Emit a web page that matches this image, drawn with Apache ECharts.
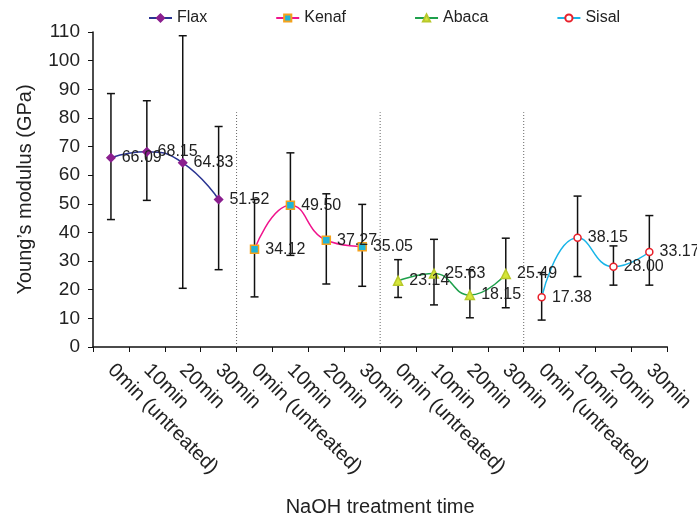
<!DOCTYPE html>
<html>
<head>
<meta charset="utf-8">
<script src="https://cdn.jsdelivr.net/npm/echarts@6/dist/echarts.min.js"></script>
<style>
  html, body { margin: 0; padding: 0; background: #fff; }
  #chart { width: 697px; height: 522px; }
</style>
</head>
<body>
<div id="chart"></div>
<script>
  var categories = [
    "0min (untreated)", "10min", "20min", "30min",
    "0min (untreated)", "10min", "20min", "30min",
    "0min (untreated)", "10min", "20min", "30min",
    "0min (untreated)", "10min", "20min", "30min"
  ];

  var flax = [66.09, 68.15, 64.33, 51.52];
  var flaxLow = [44.5, 51.2, 20.5, 27.0];
  var flaxHigh = [88.5, 86.0, 108.7, 77.0];

  var kenaf = [34.12, 49.50, 37.27, 35.05];
  var kenafLow = [17.5, 32.0, 22.0, 21.2];
  var kenafHigh = [51.5, 67.8, 53.5, 49.8];

  var abaca = [23.14, 25.63, 18.15, 25.49];
  var abacaLow = [17.3, 14.7, 10.2, 13.7];
  var abacaHigh = [30.5, 37.6, 27.0, 38.0];

  var sisal = [17.38, 38.15, 28.00, 33.17];
  var sisalLow = [9.4, 24.6, 21.6, 21.6];
  var sisalHigh = [26.0, 52.7, 35.3, 45.9];

  var groupSize = 4;

  function placed(values, group) {
    var out = [];
    for (var i = 0; i < categories.length; i++) out.push("-");
    for (var j = 0; j < values.length; j++) out[group * groupSize + j] = values[j];
    return out;
  }

  var errorData = [];
  [[flaxLow, flaxHigh], [kenafLow, kenafHigh], [abacaLow, abacaHigh], [sisalLow, sisalHigh]].forEach(function (pair, g) {
    for (var j = 0; j < pair[0].length; j++) {
      errorData.push([g * groupSize + j, pair[0][j], pair[1][j]]);
    }
  });

  // dotted dividers between fibre groups, up to ~82 GPa
  var separators = [];
  for (var s = 1; s < 4; s++) separators.push([s * groupSize, 82]);

  function errorBar(params, api) {
    var x = api.value(0);
    var lo = api.coord([x, api.value(1)]);
    var hi = api.coord([x, api.value(2)]);
    var w = 4;
    var st = { stroke: "#111", lineWidth: 1.5 };
    return {
      type: "group",
      children: [
        { type: "line", shape: { x1: hi[0], y1: hi[1], x2: lo[0], y2: lo[1] }, style: st },
        { type: "line", shape: { x1: hi[0] - w, y1: hi[1], x2: hi[0] + w, y2: hi[1] }, style: st },
        { type: "line", shape: { x1: lo[0] - w, y1: lo[1], x2: lo[0] + w, y2: lo[1] }, style: st }
      ]
    };
  }

  function separatorLine(params, api) {
    var idx = api.value(0);
    var band = api.size([1, 0])[0];
    var b = api.coord([idx, 0]);
    var t = api.coord([idx, api.value(1)]);
    var x = b[0] - band / 2;
    return {
      type: "line",
      shape: { x1: x, y1: b[1], x2: x, y2: t[1] },
      style: { stroke: "#666", lineWidth: 1, lineDash: [1, 2] }
    };
  }

  function lineSeries(name, values, group, lineColor, symbol, fill, border, size) {
    return {
      name: name,
      type: "line",
      data: placed(values, group),
      smooth: 0.5,
      connectNulls: false,
      symbol: symbol,
      symbolSize: size,
      lineStyle: { color: lineColor, width: 1.5 },
      itemStyle: { color: fill, borderColor: border, borderWidth: 1.5 },
      label: {
        show: true,
        position: "right",
        distance: 6,
        fontSize: 16,
        color: "#222",
        formatter: function (p) { return p.value.toFixed(2); }
      },
      z: 3
    };
  }

  var myChart = echarts.init(document.getElementById("chart"), null, { renderer: "canvas" });
  var option = {
    animation: false,
    textStyle: { fontFamily: "Liberation Sans" },
    legend: {
      top: 5,
      left: 143,
      itemGap: 68,
      itemWidth: 23,
      itemHeight: 9,
      textStyle: { fontSize: 16, color: "#222" },
      data: ["Flax", "Kenaf", "Abaca", "Sisal"]
    },
    grid: { left: 93, right: 28, top: 32, bottom: 175 },
    xAxis: {
      type: "category",
      data: categories,
      boundaryGap: true,
      name: "NaOH treatment time",
      nameLocation: "middle",
      nameGap: 150,
      nameTextStyle: { fontSize: 20, color: "#222" },
      axisLine: { lineStyle: { color: "#111", width: 1.5 } },
      axisTick: { show: true, length: 5, lineStyle: { color: "#111" } },
      axisLabel: { interval: 0, rotate: -45, fontSize: 20, color: "#222", margin: 20 }
    },
    yAxis: {
      type: "value",
      min: 0,
      max: 110,
      interval: 10,
      name: "Young’s modulus (GPa)",
      nameLocation: "middle",
      nameGap: 58,
      nameTextStyle: { fontSize: 20, color: "#222" },
      axisLine: { show: true, lineStyle: { color: "#111", width: 1.5 } },
      axisTick: { show: true, length: 5, lineStyle: { color: "#111" } },
      axisLabel: { fontSize: 19, color: "#222", margin: 13 },
      splitLine: { show: false }
    },
    series: [
      lineSeries("Flax", flax, 0, "#2b3592", "diamond", "#8b1f8f", "#8b1f8f", 8),
      lineSeries("Kenaf", kenaf, 1, "#f0138c", "rect", "#20b4d8", "#f5a21c", 8),
      lineSeries("Abaca", abaca, 2, "#1ea04c", "triangle", "#d6e63a", "#b8c82a", 9),
      lineSeries("Sisal", sisal, 3, "#19b5e8", "circle", "#ffffff", "#e8202a", 7),
      {
        type: "custom",
        renderItem: errorBar,
        data: errorData,
        encode: { x: 0, y: [1, 2] },
        silent: true,
        z: 2
      },
      {
        type: "custom",
        renderItem: separatorLine,
        data: separators,
        encode: { x: 0, y: 1 },
        silent: true,
        z: 1
      }
    ]
  };
  option && myChart.setOption(option);
</script>
</body>
</html>
